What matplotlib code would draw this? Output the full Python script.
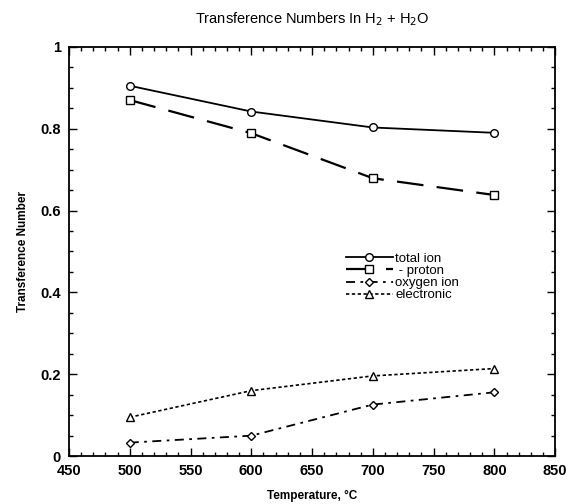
import matplotlib
matplotlib.use("Agg")
import matplotlib.pyplot as plt
from matplotlib.ticker import MultipleLocator

plt.rcParams['font.family'] = ['Liberation Sans', 'DejaVu Sans']

temperature = [500, 600, 700, 800]
total_ion = [0.905, 0.842, 0.803, 0.790]
proton = [0.870, 0.789, 0.679, 0.638]
oxygen_ion = [0.033, 0.050, 0.126, 0.156]
electronic = [0.095, 0.160, 0.196, 0.214]

series_labels = ['total ion', ' - proton', 'oxygen ion', 'electronic']

fig = plt.figure(figsize=(5.7, 5.04), dpi=100)
ax = fig.add_axes([0.121, 0.095, 0.853, 0.812])

mk = dict(markersize=5.5, markerfacecolor='white', markeredgecolor='black',
          markeredgewidth=1.0, color='black')

ax.plot(temperature, total_ion, '-', marker='o', linewidth=1.3,
        label=series_labels[0], **mk)
ax.plot(temperature, proton, marker='s', linewidth=1.6,
        dashes=(12, 6), label=series_labels[1], **mk)
ax.plot(temperature, oxygen_ion, marker='D', linewidth=1.3,
        dashes=(5, 3, 1.5, 3), label=series_labels[2],
        **{**mk, 'markersize': 4.5})
ax.plot(temperature, electronic, marker='^', linewidth=1.2,
        dashes=(2, 1.5), label=series_labels[3], **mk)

ax.set_xlim(450, 850)
ax.set_ylim(0, 1)
ax.xaxis.set_major_locator(MultipleLocator(50))
ax.xaxis.set_minor_locator(MultipleLocator(10))
ax.yaxis.set_major_locator(MultipleLocator(0.2))
ax.yaxis.set_minor_locator(MultipleLocator(0.05))
ax.set_yticks([0, 0.2, 0.4, 0.6, 0.8, 1.0])
ax.set_yticklabels(['0', '0.2', '0.4', '0.6', '0.8', '1'])

ax.tick_params(which='both', direction='in', top=True, right=True,
               width=1.0, labelsize=10.5, pad=6)
ax.tick_params(which='major', length=6)
ax.tick_params(which='minor', length=3)
for lab in ax.get_xticklabels() + ax.get_yticklabels():
    lab.set_fontweight('bold')
for sp in ax.spines.values():
    sp.set_linewidth(1.3)

ax.set_xlabel('Temperature, °C', fontsize=8.5, fontweight='bold', labelpad=8)
ax.set_ylabel('Transference Number', fontsize=8.5, fontweight='bold', labelpad=8)
ax.set_title('Transference Numbers In H$_2$ + H$_2$O', fontsize=10.5, pad=17)

leg = ax.legend(loc='upper left', bbox_to_anchor=(0.55, 0.52), frameon=False,
                fontsize=9.5, handlelength=3.6, handletextpad=0.15,
                labelspacing=0.0, borderpad=0.2)

fig.savefig('out.png', dpi=100)
